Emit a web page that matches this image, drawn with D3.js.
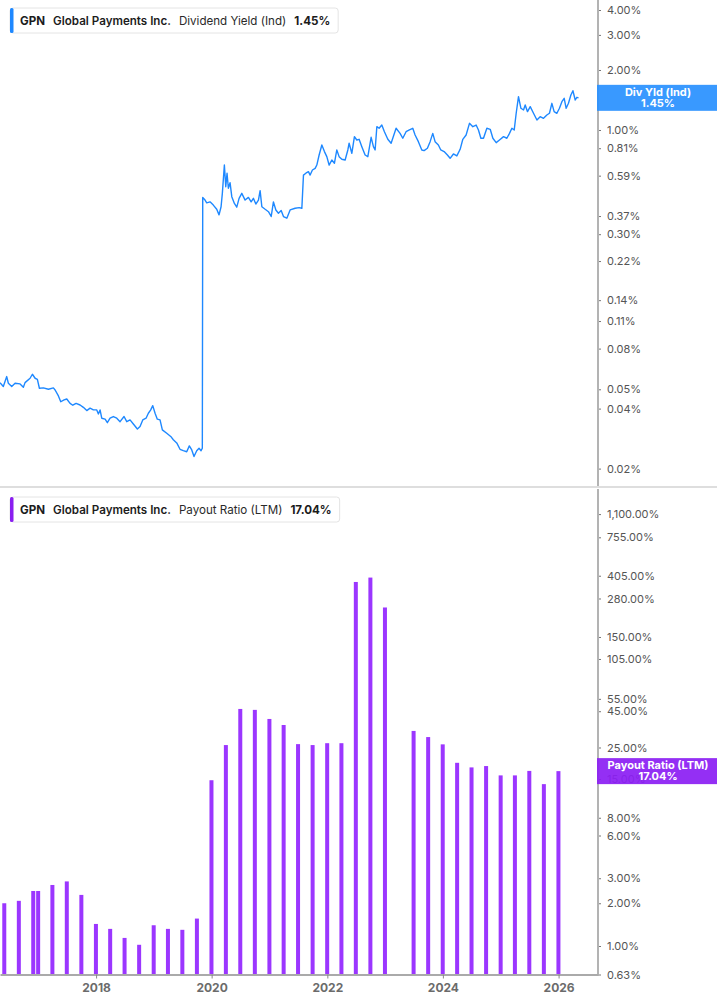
<!DOCTYPE html>
<html>
<head>
<meta charset="utf-8">
<script src="https://cdn.jsdelivr.net/npm/d3@7"></script>
<style>
  html, body { margin: 0; padding: 0; background: #fff; }
  svg { display: block; font-family: Inter, "Noto Sans", sans-serif; }
</style>
</head>
<body>
<svg id="chart" width="717" height="1005"></svg>
<script>
// dividend yield (ind), % - [decimal year, value]
var yieldSeries = [
  [2016.339, 0.0540], [2016.396, 0.0516], [2016.455, 0.0579], [2016.483, 0.0536], [2016.541, 0.0516],
  [2016.599, 0.0536], [2016.685, 0.0532], [2016.742, 0.0512], [2016.771, 0.0540], [2016.858, 0.0568],
  [2016.898, 0.0595], [2016.945, 0.0568], [2016.984, 0.0561], [2017.019, 0.0506], [2017.088, 0.0508],
  [2017.175, 0.0500], [2017.261, 0.0508], [2017.291, 0.0496], [2017.348, 0.0463], [2017.389, 0.0433],
  [2017.446, 0.0442], [2017.493, 0.0447], [2017.550, 0.0425], [2017.597, 0.0416], [2017.654, 0.0425],
  [2017.723, 0.0417], [2017.780, 0.0406], [2017.839, 0.0391], [2017.896, 0.0402], [2017.953, 0.0394],
  [2018.012, 0.0394], [2018.040, 0.0376], [2018.069, 0.0394], [2018.098, 0.0358], [2018.156, 0.0354],
  [2018.195, 0.0340], [2018.242, 0.0358], [2018.299, 0.0365], [2018.358, 0.0358], [2018.415, 0.0344],
  [2018.484, 0.0365], [2018.531, 0.0344], [2018.588, 0.0351], [2018.645, 0.0335], [2018.715, 0.0316],
  [2018.761, 0.0325], [2018.808, 0.0351], [2018.865, 0.0358], [2018.905, 0.0379], [2018.946, 0.0394],
  [2018.981, 0.0414], [2019.021, 0.0379], [2019.060, 0.0354], [2019.107, 0.0351], [2019.147, 0.0313],
  [2019.223, 0.0301], [2019.292, 0.0290], [2019.337, 0.0279], [2019.396, 0.0269], [2019.453, 0.0250],
  [2019.510, 0.0246], [2019.569, 0.0243], [2019.614, 0.0260], [2019.656, 0.0248], [2019.695, 0.0230],
  [2019.742, 0.0246], [2019.782, 0.0253], [2019.817, 0.0246], [2019.839, 0.0253], [2019.846, 0.459],
  [2019.886, 0.445], [2019.915, 0.431], [2019.972, 0.436], [2020.029, 0.420], [2020.088, 0.400],
  [2020.128, 0.375], [2020.163, 0.412], [2020.185, 0.481], [2020.220, 0.667], [2020.244, 0.519],
  [2020.266, 0.607], [2020.289, 0.510], [2020.318, 0.544], [2020.348, 0.463], [2020.393, 0.428],
  [2020.434, 0.410], [2020.474, 0.454], [2020.521, 0.481], [2020.578, 0.445], [2020.635, 0.459],
  [2020.682, 0.436], [2020.721, 0.454], [2020.763, 0.425], [2020.808, 0.445], [2020.837, 0.496],
  [2020.867, 0.412], [2020.924, 0.400], [2020.981, 0.389], [2021.028, 0.368], [2021.067, 0.436],
  [2021.109, 0.397], [2021.154, 0.382], [2021.201, 0.394], [2021.241, 0.368], [2021.299, 0.361],
  [2021.356, 0.397], [2021.443, 0.405], [2021.512, 0.408], [2021.559, 0.405], [2021.587, 0.594],
  [2021.628, 0.607], [2021.673, 0.618], [2021.702, 0.594], [2021.742, 0.630], [2021.789, 0.642],
  [2021.818, 0.667], [2021.858, 0.749], [2021.905, 0.841], [2021.950, 0.779], [2021.991, 0.735],
  [2022.031, 0.667], [2022.078, 0.707], [2022.123, 0.681], [2022.164, 0.794], [2022.204, 0.735],
  [2022.251, 0.713], [2022.308, 0.707], [2022.355, 0.794], [2022.377, 0.858], [2022.424, 0.764],
  [2022.469, 0.926], [2022.510, 0.891], [2022.550, 0.898], [2022.597, 0.825], [2022.654, 0.749],
  [2022.701, 0.735], [2022.758, 0.919], [2022.798, 0.825], [2022.827, 0.794], [2022.857, 1.039],
  [2022.896, 1.020], [2022.943, 1.059], [2022.988, 0.980], [2023.047, 0.898], [2023.104, 0.858],
  [2023.190, 1.020], [2023.259, 0.962], [2023.306, 0.909], [2023.363, 0.980], [2023.420, 1.000],
  [2023.479, 1.020], [2023.519, 0.944], [2023.576, 0.874], [2023.635, 0.794], [2023.675, 0.788],
  [2023.732, 0.810], [2023.779, 0.874], [2023.825, 0.962], [2023.865, 0.874], [2023.922, 0.841],
  [2023.964, 0.794], [2024.021, 0.779], [2024.078, 0.749], [2024.125, 0.721], [2024.182, 0.758],
  [2024.241, 0.741], [2024.298, 0.800], [2024.344, 0.898], [2024.401, 0.944], [2024.459, 1.080],
  [2024.517, 1.039], [2024.574, 1.059], [2024.614, 1.000], [2024.656, 0.909], [2024.701, 0.909],
  [2024.759, 1.020], [2024.817, 1.008], [2024.863, 0.909], [2024.920, 0.864], [2024.977, 0.891],
  [2025.047, 0.926], [2025.105, 0.909], [2025.150, 0.962], [2025.192, 1.020], [2025.232, 1.000],
  [2025.266, 1.213], [2025.306, 1.469], [2025.348, 1.285], [2025.393, 1.260], [2025.422, 1.335],
  [2025.462, 1.236], [2025.509, 1.309], [2025.566, 1.213], [2025.625, 1.122], [2025.681, 1.166],
  [2025.739, 1.144], [2025.797, 1.189], [2025.842, 1.213], [2025.884, 1.361], [2025.923, 1.236],
  [2025.970, 1.213], [2026.015, 1.285], [2026.057, 1.387], [2026.097, 1.442], [2026.131, 1.285],
  [2026.171, 1.361], [2026.213, 1.498], [2026.248, 1.574], [2026.288, 1.414], [2026.317, 1.459],
  [2026.345, 1.450]
];

// payout ratio (LTM), % by fiscal quarter end; null = not shown
var payoutDates = [
  "2016-05-31", "2016-08-31", "2016-11-30", "2016-12-31", "2017-03-31", "2017-06-30", "2017-09-30", "2017-12-31",
  "2018-03-31", "2018-06-30", "2018-09-30", "2018-12-31", "2019-03-31", "2019-06-30", "2019-09-30", "2019-12-31",
  "2020-03-31", "2020-06-30", "2020-09-30", "2020-12-31", "2021-03-31", "2021-06-30", "2021-09-30", "2021-12-31",
  "2022-03-31", "2022-06-30", "2022-09-30", "2022-12-31", "2023-03-31", "2023-06-30", "2023-09-30", "2023-12-31",
  "2024-03-31", "2024-06-30", "2024-09-30", "2024-12-31", "2025-03-31", "2025-06-30", "2025-09-30", "2025-12-31"
];
var payoutValues = [
  2.00, 2.08, 2.44, 2.44, 2.69, 2.85, 2.29, 1.43,
  1.32, 1.14, 1.02, 1.40, 1.32, 1.30, 1.56, 14.7,
  26.0, 46.7, 46.0, 39.7, 36.0, 26.4, 26.0, 26.8,
  26.8, 366, 393, 242, null, 32.7, 29.6, 26.3,
  19.5, 18.1, 18.5, 15.9, 15.9, 17.1, 13.8, 17.04
];

var yieldTicks = [4, 3, 2, 1, 0.81, 0.59, 0.37, 0.30, 0.22, 0.14, 0.11, 0.08, 0.05, 0.04, 0.02];
var payoutTicks = [1100, 755, 405, 280, 150, 105, 55, 45, 25, 15, 8, 6, 3, 2, 1, 0.63];
var yearTicks = [2018, 2020, 2022, 2024, 2026];

var lastYield = 1.45;
var lastPayout = 17.04;

var blue = "#1e88ff", blueTag = "#2a91ff";
var purple = "#9b36ff", purpleTag = "#8c1ff3";
var axisX = 598;

function fromDecimal(t){
    var yr = Math.floor(t);
    var a = Date.UTC(yr, 0, 1), b = Date.UTC(yr + 1, 0, 1);
    return new Date(a + (t - yr) * (b - a));
}

var svg = d3.select("#chart");
var parse = d3.utcParse("%Y-%m-%d");

var x = d3.scaleUtc()
    .domain([parse("2016-05-04"), parse("2026-09-07")])
    .range([0, axisX]);

var yTop = d3.scaleLog().domain([0.02, 4]).range([468.6, 10]);
var yBot = d3.scaleLog().domain([0.63, 1100]).range([974.5, 514.1]);

// separator between panes
svg.append("line")
    .attr("x1", 0).attr("x2", 717)
    .attr("y1", 487).attr("y2", 487)
    .attr("stroke", "#dedede").attr("stroke-width", 2);

// ---- top pane: dividend yield line
var line = d3.line()
    .x(function(d){ return x(fromDecimal(d[0])); })
    .y(function(d){ return yTop(d[1]); });

svg.append("path")
    .datum(yieldSeries)
    .attr("d", line)
    .attr("fill", "none")
    .attr("stroke", blue)
    .attr("stroke-width", 1.4)
    .attr("stroke-linejoin", "round");

// ---- bottom pane: payout bars
var bars = payoutDates.map(function(d, i){
    return {date: parse(d), value: payoutValues[i]};
}).filter(function(d){ return d.value != null; });

svg.append("g").selectAll("rect")
    .data(bars)
    .enter().append("rect")
    .attr("x", function(d){ return x(d.date) - 2; })
    .attr("width", 4)
    .attr("y", function(d){ return yBot(d.value); })
    .attr("height", function(d){ return yBot(0.63) - yBot(d.value); })
    .attr("fill", purple);

// ---- right axes
function rightAxis(scale, ticks, fmt){
    var g = svg.append("g")
        .attr("transform", "translate(" + axisX + ",0)")
        .call(d3.axisRight(scale).tickValues(ticks).tickFormat(fmt).tickSize(3).tickPadding(6).tickSizeOuter(0));
    g.select(".domain").remove();
    g.selectAll(".tick line").attr("stroke", "#777");
    g.selectAll(".tick text")
        .attr("fill", "#555")
        .attr("font-size", 11)
        .attr("font-family", "Inter, 'Noto Sans', sans-serif");
    return g;
}

rightAxis(yTop, yieldTicks, function(d){ return d3.format(".2f")(d) + "%"; });
rightAxis(yBot, payoutTicks, function(d){ return d3.format(",.2f")(d) + "%"; });

svg.append("line")
    .attr("x1", axisX).attr("x2", axisX).attr("y1", 0).attr("y2", 486)
    .attr("stroke", "#b3b3b3").attr("stroke-width", 2);
svg.append("line")
    .attr("x1", axisX).attr("x2", axisX).attr("y1", 489).attr("y2", 975.5)
    .attr("stroke", "#b3b3b3").attr("stroke-width", 2);

// ---- bottom time axis
var xg = svg.append("g")
    .attr("transform", "translate(0," + yBot(0.63) + ")")
    .call(d3.axisBottom(x)
        .tickValues(yearTicks.map(function(y){ return new Date(Date.UTC(y, 0, 1)); }))
        .tickFormat(d3.utcFormat("%Y"))
        .tickSize(4).tickSizeOuter(0).tickPadding(5));
xg.select(".domain").attr("stroke", "#aaa").attr("stroke-width", 2);
xg.selectAll(".tick line").attr("stroke", "#888");
xg.selectAll(".tick text")
    .attr("fill", "#6b6b6b")
    .attr("font-size", 12)
    .attr("font-weight", 700)
    .attr("font-family", "Inter, 'Noto Sans', sans-serif");

// ---- last value tags
function valueTag(yPos, color, title, value){
    var g = svg.append("g").attr("transform", "translate(" + (axisX - 1) + "," + (yPos - 13) + ")");
    g.append("rect")
        .attr("width", 717 - axisX + 1).attr("height", 26)
        .attr("fill", color).attr("fill-opacity", 0.93);
    g.append("text")
        .attr("x", 61).attr("y", 11)
        .attr("text-anchor", "middle").attr("fill", "#fff")
        .attr("font-size", 11).attr("font-weight", 700)
        .text(title);
    g.append("text")
        .attr("x", 61).attr("y", 22)
        .attr("text-anchor", "middle").attr("fill", "#fff")
        .attr("font-size", 11).attr("font-weight", 700)
        .text(value);
}

valueTag(yTop(lastYield), blueTag, "Div Yld (Ind)", d3.format(".2f")(lastYield) + "%");
valueTag(yBot(lastPayout), purpleTag, "Payout Ratio (LTM)", d3.format(".2f")(lastPayout) + "%");

// ---- legends
function legend(top, color, label, value){
    var g = svg.append("g").attr("transform", "translate(10," + top + ")");
    var box = g.append("rect")
        .attr("height", 25).attr("rx", 3)
        .attr("fill", "#fff").attr("stroke", "#e4e4e4");
    var text = g.append("text")
        .attr("x", 10).attr("y", 17)
        .attr("font-size", 11.6).attr("fill", "#1c1c1c");
    text.append("tspan").attr("font-weight", 700).text("GPN");
    text.append("tspan").attr("dx", 8).attr("font-weight", 600).text("Global Payments Inc.");
    text.append("tspan").attr("dx", 8).attr("font-weight", 400).attr("fill", "#2a2a2a").text(label);
    text.append("tspan").attr("dx", 8).attr("font-weight", 700).text(value);
    var w = text.node().getBBox().width + 18;
    box.attr("width", w);
    g.append("rect")
        .attr("width", 3.5).attr("height", 25).attr("rx", 1.5)
        .attr("fill", color);
}

legend(8, blue, "Dividend Yield (Ind)", d3.format(".2f")(lastYield) + "%");
legend(497, "#8a1ff0", "Payout Ratio (LTM)", d3.format(".2f")(lastPayout) + "%");
</script>
</body>
</html>
